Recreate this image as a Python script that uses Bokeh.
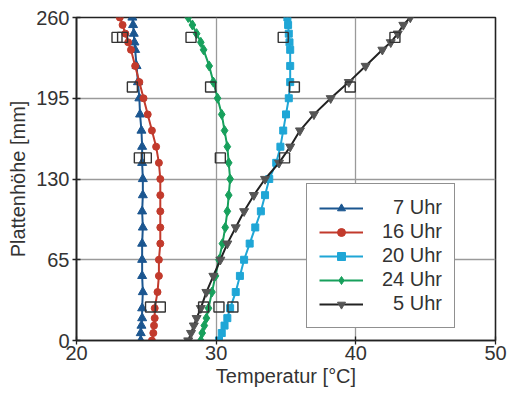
from bokeh.plotting import figure
from bokeh.models import Range1d, FixedTicker, Legend, LegendItem
from bokeh.embed import file_html
from bokeh.resources import INLINE

# heights of the sensors [mm]
heights = [0, 6, 12, 18, 26, 39, 52, 65, 78, 91, 104, 117, 130, 143, 156, 169, 182, 195, 208, 221, 234, 240, 247, 254, 260]

t_7 = [24.6, 24.6, 24.65, 24.7, 24.7, 24.75, 24.7, 24.7, 24.7, 24.75, 24.7, 24.75, 24.75, 24.7, 24.7, 24.65, 24.55, 24.5, 24.4, 24.3, 24.2, 24.15, 24.1, 24.05, 24.0]
t_16 = [25.4, 25.5, 25.55, 25.6, 25.6, 25.8, 25.9, 25.9, 26.0, 26.0, 26.0, 26.0, 26.0, 25.9, 25.7, 25.4, 25.1, 24.8, 24.5, 24.2, 23.9, 23.7, 23.5, 23.3, 23.1]
t_20 = [30.2, 30.4, 30.6, 30.8, 31.0, 31.4, 31.7, 32.0, 32.4, 32.8, 33.2, 33.5, 33.8, 34.3, 34.6, 34.8, 35.0, 35.2, 35.3, 35.3, 35.3, 35.25, 35.2, 35.15, 35.1]
t_24 = [28.9, 29.0, 29.15, 29.3, 29.45, 29.7, 29.95, 30.2, 30.45, 30.65, 30.8, 30.9, 31.0, 30.9, 30.8, 30.6, 30.4, 30.1, 29.8, 29.5, 29.1, 28.9, 28.6, 28.3, 28.0]
t_5 = [28.0, 28.2, 28.4, 28.6, 28.9, 29.3, 29.8, 30.3, 30.8, 31.4, 32.0, 32.7, 33.5, 34.5, 35.3, 36.0, 37.0, 38.2, 39.5, 40.7, 41.9, 42.5, 43.0, 43.4, 43.9]

# measured reference values (open squares)
sq_h = [244, 244, 244, 244, 244, 204, 204, 204, 204, 147, 147, 147, 147, 27, 27, 27, 27, 27]
sq_t = [22.9, 23.3, 28.2, 34.8, 42.8, 24.0, 29.6, 35.6, 39.6, 24.5, 25.0, 30.3, 34.9, 25.3, 26.0, 29.1, 30.2, 31.2]

labels = ["\u20077 Uhr", "16 Uhr", "20 Uhr", "24 Uhr", "\u20075 Uhr"]
x_ticks = [20, 30, 40, 50]
y_ticks = [0, 65, 130, 195, 260]

FONT = "Liberation Sans"

p = figure(width=507, height=397, output_backend="svg", toolbar_location=None,
           x_range=Range1d(20, 50), y_range=Range1d(0, 260),
           min_border_left=76, min_border_right=12, min_border_top=17, min_border_bottom=57)
p.background_fill_color = "white"
p.border_fill_color = "white"
p.outline_line_color = "#222222"
p.outline_line_width = 1.6

p.xaxis.ticker = FixedTicker(ticks=x_ticks)
p.yaxis.ticker = FixedTicker(ticks=y_ticks)
for ax in (p.xaxis, p.yaxis):
    ax.axis_line_color = "#222222"
    ax.axis_line_width = 1.6
    ax.major_tick_line_color = "#222222"
    ax.major_tick_line_width = 1.3
    ax.major_tick_in = 4
    ax.major_tick_out = 4
    ax.minor_tick_line_color = None
    ax.major_label_text_font = FONT
    ax.major_label_text_font_size = "20px"
    ax.major_label_text_color = "#333333"
    ax.axis_label_text_font = FONT
    ax.axis_label_text_font_size = "20px"
    ax.axis_label_text_font_style = "normal"
    ax.axis_label_text_color = "#333333"
p.xaxis.axis_label = "Temperatur [°C]"
p.yaxis.axis_label = "Plattenhöhe [mm]"
p.xaxis.major_label_standoff = 1
p.xaxis.axis_label_standoff = 2
p.yaxis.major_label_standoff = 3
p.yaxis.axis_label_standoff = 4

p.grid.grid_line_color = "#9a9a9a"
p.grid.grid_line_width = 1.3

series = [
    (t_7, "#1b5690", "triangle", 9),
    (t_16, "#c23a2c", "circle", 7),
    (t_20, "#1fa6d6", "square", 7),
    (t_24, "#17a05c", "diamond", 10),
    (t_5, "#222222", "inverted_triangle", 9),
]

items = []
for (temps, color, marker, size), lab in zip(series, labels):
    r1 = p.line(temps, heights, line_color=color, line_width=2)
    r2 = p.scatter(temps, heights, marker=marker, size=size,
                   fill_color=color if color != "#222222" else "#555555",
                   line_color=color if color != "#222222" else "#555555")
    items.append(LegendItem(label=lab, renderers=[r1, r2]))

p.scatter(sq_t, sq_h, marker="square", size=10, fill_alpha=0,
          line_color="#333333", line_width=1.4)

legend = Legend(items=items, location=(230, 12))
legend.border_line_color = "#222222"
legend.border_line_width = 1.5
legend.background_fill_color = "white"
legend.background_fill_alpha = 1
legend.label_text_font = FONT
legend.label_text_font_size = "20px"
legend.label_text_color = "#333333"
legend.glyph_width = 44
legend.glyph_height = 20
legend.label_height = 20
legend.label_standoff = 19
legend.spacing = 1
legend.padding = 12
legend.margin = 0
p.add_layout(legend, "center")

open("out.html", "w").write(file_html(p, INLINE))
